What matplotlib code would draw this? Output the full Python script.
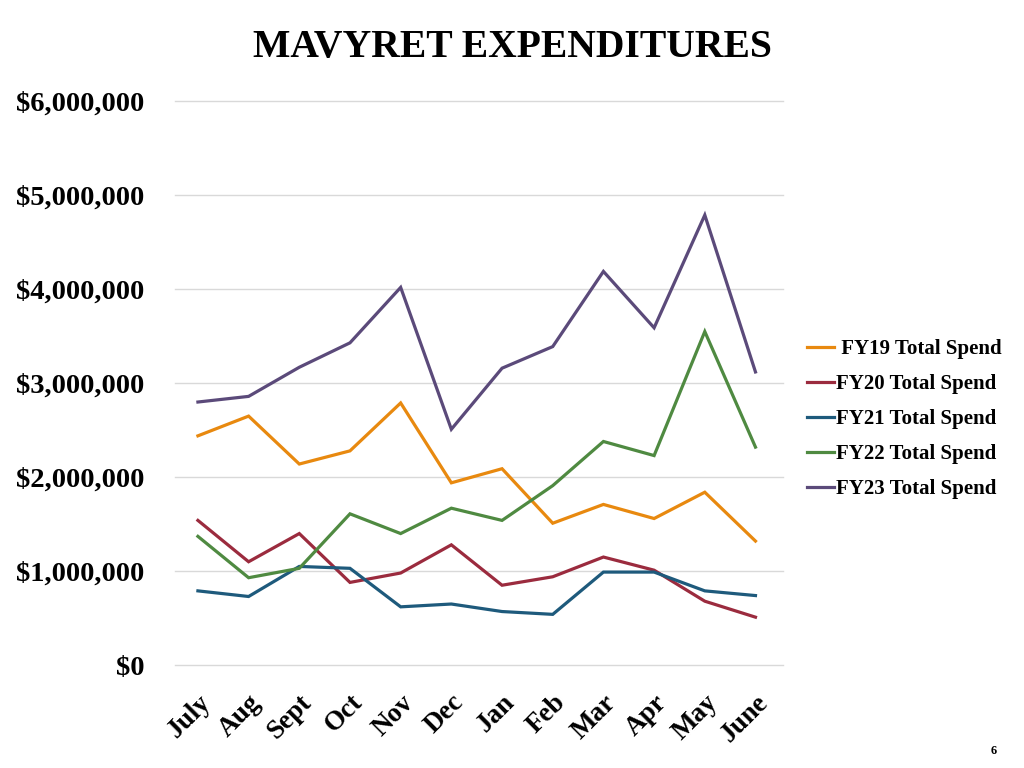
import matplotlib.pyplot as plt
from matplotlib.ticker import FuncFormatter

plt.rcParams['font.family'] = ['Liberation Serif', 'DejaVu Serif']
plt.rcParams['font.weight'] = 'bold'

months = ["July", "Aug", "Sept", "Oct", "Nov", "Dec", "Jan", "Feb", "Mar", "Apr", "May", "June"]

fy19 = [2440000, 2650000, 2140000, 2280000, 2790000, 1940000, 2090000, 1510000, 1710000, 1560000, 1840000, 1320000]
fy20 = [1540000, 1100000, 1400000, 880000, 980000, 1280000, 850000, 940000, 1150000, 1010000, 680000, 510000]
fy21 = [790000, 730000, 1050000, 1030000, 620000, 650000, 570000, 540000, 990000, 990000, 790000, 740000]
fy22 = [1370000, 930000, 1030000, 1610000, 1400000, 1670000, 1540000, 1910000, 2380000, 2230000, 3550000, 2320000]
fy23 = [2800000, 2860000, 3170000, 3430000, 4020000, 2510000, 3160000, 3390000, 4190000, 3590000, 4790000, 3120000]

series = [
    (" FY19 Total Spend", fy19, "#E8890F"),
    ("FY20 Total Spend", fy20, "#9B2B3E"),
    ("FY21 Total Spend", fy21, "#1E5A7C"),
    ("FY22 Total Spend", fy22, "#4F8A41"),
    ("FY23 Total Spend", fy23, "#5B4A7A"),
]

fig = plt.figure(figsize=(10.24, 7.68), dpi=100)
ax = fig.add_axes([0.171, 0.134, 0.594, 0.734])

x = range(len(months))
for label, vals, color in series:
    ax.plot(x, vals, color=color, lw=2.3, label=label, solid_joinstyle='miter')

ax.set_ylim(0, 6000000)
ax.set_xlim(-0.45, 11.55)
ax.set_yticks(range(0, 6000001, 1000000))
ax.yaxis.set_major_formatter(FuncFormatter(lambda v, p: f"${v:,.0f}"))
ax.grid(axis='y', color='#d9d9d9', lw=1)
for gl in ax.get_ygridlines():
    gl.set_clip_on(False)
ax.set_axisbelow(True)
for s in ax.spines.values():
    s.set_visible(False)
ax.tick_params(length=0)
ax.tick_params(axis='y', labelsize=20.5, pad=22)

ax.set_xticks(list(x))
ax.set_xticklabels(months, rotation=45, ha='right', rotation_mode='anchor', fontsize=19.5)
ax.tick_params(axis='x', pad=18)

fig.text(0.5, 0.938, "MAVYRET EXPENDITURES", ha='center', va='center', fontsize=28.5, fontweight='bold')

fig.legend(loc='center left', bbox_to_anchor=(0.77, 0.454), frameon=False,
           fontsize=15, handlelength=1.3, handletextpad=0.1, labelspacing=0.72)

fig.text(0.97, 0.022, "6", ha='center', va='center', fontsize=9)

fig.savefig("out.png", dpi=100)
